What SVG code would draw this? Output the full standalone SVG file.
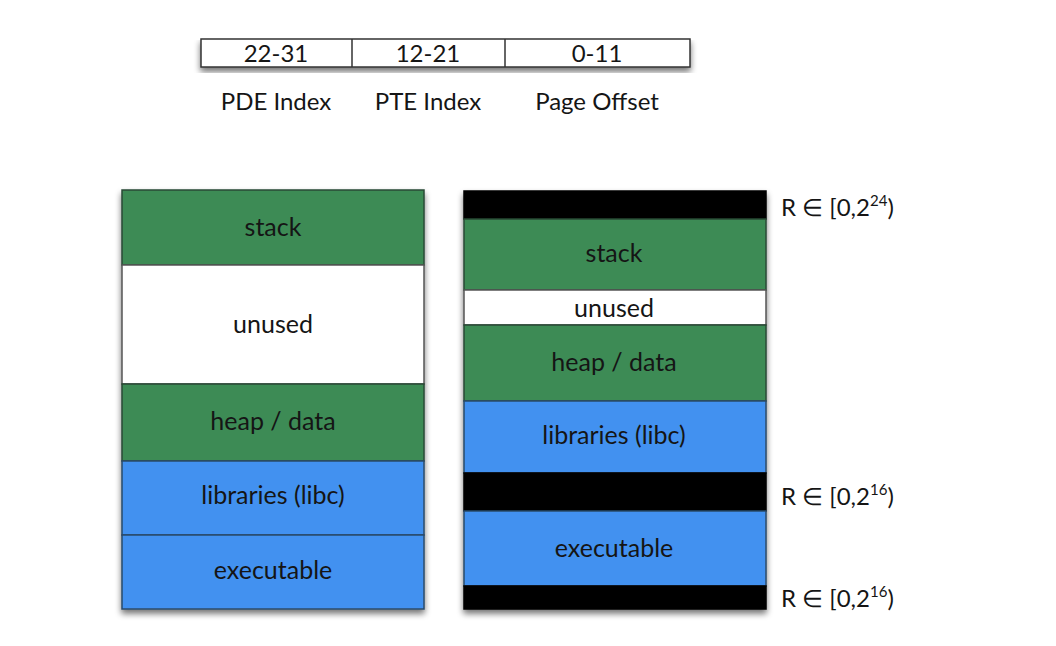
<svg xmlns="http://www.w3.org/2000/svg" width="1056" height="646" viewBox="0 0 1056 646">
<defs>
<filter id="sh" x="-10%" y="-10%" width="120%" height="130%">
<feGaussianBlur in="SourceAlpha" stdDeviation="3"/>
<feOffset dx="0" dy="4"/>
<feComponentTransfer><feFuncA type="linear" slope="0.55"/></feComponentTransfer>
<feMerge><feMergeNode/><feMergeNode in="SourceGraphic"/></feMerge>
</filter>
<style>
text{font-family:Lato,"Open Sans","Liberation Sans",sans-serif;fill:#151515;text-anchor:middle}
.t{font-size:24px}
.s{font-size:25px}
.g{fill:#3d8b55;stroke:#2a4a35;stroke-width:1.5}
.b{fill:#4391f0;stroke:#2a4a6a;stroke-width:1.5}
.w{fill:#ffffff;stroke:#555;stroke-width:1.5}
.k{fill:#000;stroke:#000;stroke-width:1.5}
.r{font-size:24px;text-anchor:start}
</style>
</defs>
<rect width="1056" height="646" fill="#fff"/>
<g id="address-bits">
<rect x="201" y="39" width="489" height="28" fill="#fff" stroke="#333" stroke-width="1.5" filter="url(#sh)"/>
<line x1="352" y1="39" x2="352" y2="67" stroke="#333" stroke-width="1.5"/>
<line x1="505" y1="39" x2="505" y2="67" stroke="#333" stroke-width="1.5"/>
<text class="t" x="276" y="62">22-31</text>
<text class="t" x="428" y="62">12-21</text>
<text class="t" x="597" y="62">0-11</text>
<text class="t" x="276" y="110">PDE Index</text>
<text class="t" x="428" y="110">PTE Index</text>
<text class="t" x="597" y="110">Page Offset</text>
</g>
<g id="left-layout">
<g filter="url(#sh)">
<rect class="g" x="122" y="190" width="302" height="75"/>
<rect class="w" x="122" y="265" width="302" height="119"/>
<rect class="g" x="122" y="384" width="302" height="77"/>
<rect class="b" x="122" y="461" width="302" height="74"/>
<rect class="b" x="122" y="535" width="302" height="74"/>
</g>
<text class="s" x="273" y="236">stack</text>
<text class="s" x="273" y="333">unused</text>
<text class="s" x="273" y="430">heap / data</text>
<text class="s" x="273" y="504">libraries (libc)</text>
<text class="s" x="273" y="579">executable</text>
</g>
<g id="right-layout">
<g filter="url(#sh)">
<rect class="k" x="464" y="191" width="302" height="28"/>
<rect class="g" x="464" y="219" width="302" height="71"/>
<rect class="w" x="464" y="290" width="302" height="35"/>
<rect class="g" x="464" y="325" width="302" height="76"/>
<rect class="b" x="464" y="401" width="302" height="72"/>
<rect class="k" x="464" y="473" width="302" height="38"/>
<rect class="b" x="464" y="511" width="302" height="75"/>
<rect class="k" x="464" y="586" width="302" height="23"/>
</g>
<text class="s" x="614" y="262">stack</text>
<text class="s" x="614" y="317">unused</text>
<text class="s" x="614" y="371">heap / data</text>
<text class="s" x="614" y="444">libraries (libc)</text>
<text class="s" x="614" y="557">executable</text>
</g>
<g id="random-labels">
<text class="r" x="781" y="216">R ∈ [0,2<tspan font-size="15" dy="-10">24</tspan><tspan dy="10">)</tspan></text>
<text class="r" x="781" y="505">R ∈ [0,2<tspan font-size="15" dy="-10">16</tspan><tspan dy="10">)</tspan></text>
<text class="r" x="781" y="607">R ∈ [0,2<tspan font-size="15" dy="-10">16</tspan><tspan dy="10">)</tspan></text>
</g>
</svg>
